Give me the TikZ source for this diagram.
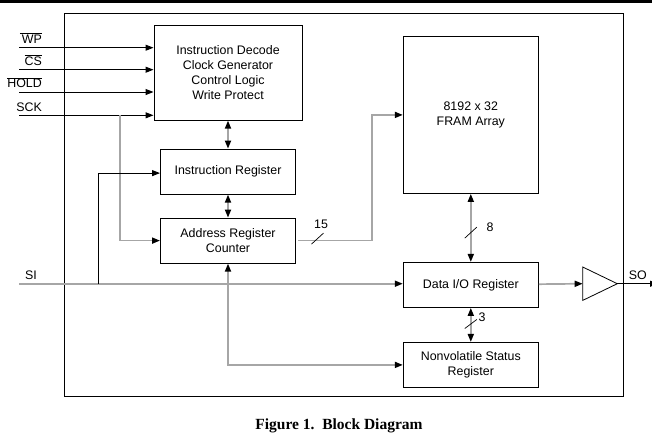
\documentclass[tikz,border=0pt]{standalone}
\usepackage{fontspec}
\setmainfont{Liberation Sans}
\newfontfamily\capfont{Liberation Serif}
\usetikzlibrary{arrows.meta,positioning}
\tikzset{
    regbox/.style={rectangle, draw=black, line width=1pt, inner sep=0pt, minimum width=135pt, minimum height=45pt, align=center},
    pil/.style={->, line width=1pt},
    grey/.style={draw=black!35, line width=1.7pt},
    lbl/.style={inner sep=0pt, anchor=base east},
    bus/.style={line width=0.7pt}
}

\begin{document}
\begin{tikzpicture}[x=1pt, y=-1pt, >={Triangle[length=8pt,width=6pt,black]}, font=\fontsize{12.4}{15}\selectfont]
    \useasboundingbox (0,0) rectangle (652,432);
    \fill (0,0) rectangle (652,2.7);
    \draw[line width=1pt] (64.3,13.3) rectangle (623.3,396.3);

    % left column
    \node[regbox, minimum width=148pt, minimum height=95pt] (ctrl) at (228,72.6)
      {Instruction Decode\\Clock Generator\\Control Logic\\Write Protect};
    \node[regbox, below=28pt of ctrl] (ir) {Instruction Register};
    \node[regbox, below=23pt of ir] (addr) {Address Register\\Counter};

    % right column
    \node[regbox, minimum height=157pt] (fram) at (470.8,114.9) {8192 x 32\\FRAM Array};
    \node[regbox, below=68pt of fram] (dataio) {Data I/O Register};
    \node[regbox, below=34pt of dataio] (status) {Nonvolatile Status\\Register};

    % inputs
    \coordinate (wp) at (19,47.7);
    \coordinate (cs) at (19,69.7);
    \coordinate (hold) at (19,92);
    \coordinate (sck) at (19,115.3);
    \foreach \s/\t in {wp/{$\overline{\mbox{\,WP}}$}, cs/{$\overline{\mbox{CS}}$}, hold/{$\overline{\mbox{HOLD}}$}, sck/SCK} {
      \draw[pil] (\s) -- (\s -| ctrl.west);
      \node[lbl] at ([xshift=23pt, yshift=4.2pt]\s) {\t};
    }

    \coordinate (sckj) at (120,115.3);
    \draw[pil, grey] (sckj) |- (addr.west);

    \coordinate (si) at (19,283.7);
    \coordinate (sij) at (98.3,283.7);
    \node[lbl, anchor=base west] (silbl) at (25,279.5) {SI};
    \draw[pil, grey] (si) -- (si -| dataio.west);
    \draw[pil] (sij) |- ([yshift=-1.5pt]ir.west);

    % internal buses
    \draw[<->, grey] (ctrl) -- (ir);
    \draw[<->, grey] (ir) -- (addr);
    \draw[<->, grey] (fram) -- (dataio);
    \draw[<->, grey] (dataio) -- (status);
    \draw[<->, grey] (addr) |- (status);
    \draw[pil, grey] ([xshift=2pt]addr.east) -- ++(74,0) |- (fram.west);

    \coordinate (b15) at (317.5,238.6);
    \draw[bus] ([shift={(-6pt,-5.5pt)}]b15) -- ([shift={(6pt,5.5pt)}]b15);
    \node (w15) at (321,224.3) {15};
    \coordinate (b8) at (470.8,232.6);
    \draw[bus] ([shift={(-6pt,-5.5pt)}]b8) -- ([shift={(6pt,5.5pt)}]b8);
    \node (w8) at (490,227.7) {8};
    \coordinate (b3) at (470.8,324);
    \draw[bus] ([shift={(-6pt,-4.5pt)}]b3) -- ([shift={(6pt,4.5pt)}]b3);
    \node (w3) at (482,317.3) {3};

    % output buffer
    \coordinate (bufin) at (582.7,283.7);
    \coordinate (bufout) at (617.3,283.7);
    \coordinate (soend) at (658,283.7);
    \draw[pil, grey] (dataio) -- (bufin);
    \draw[line width=0.8pt] ([yshift=16.7pt]bufin) -- (bufout) -- ([yshift=-16.7pt]bufin) -- cycle;
    \draw[pil] (bufout) -- (soend);
    \node[lbl, anchor=base west] (solbl) at (628.7,279.5) {SO};

    \node[font=\capfont\bfseries\fontsize{15.5}{18}\selectfont, anchor=base] (cap) at (339,429) {Figure 1.\ \ Block Diagram};
\end{tikzpicture}
\end{document}
